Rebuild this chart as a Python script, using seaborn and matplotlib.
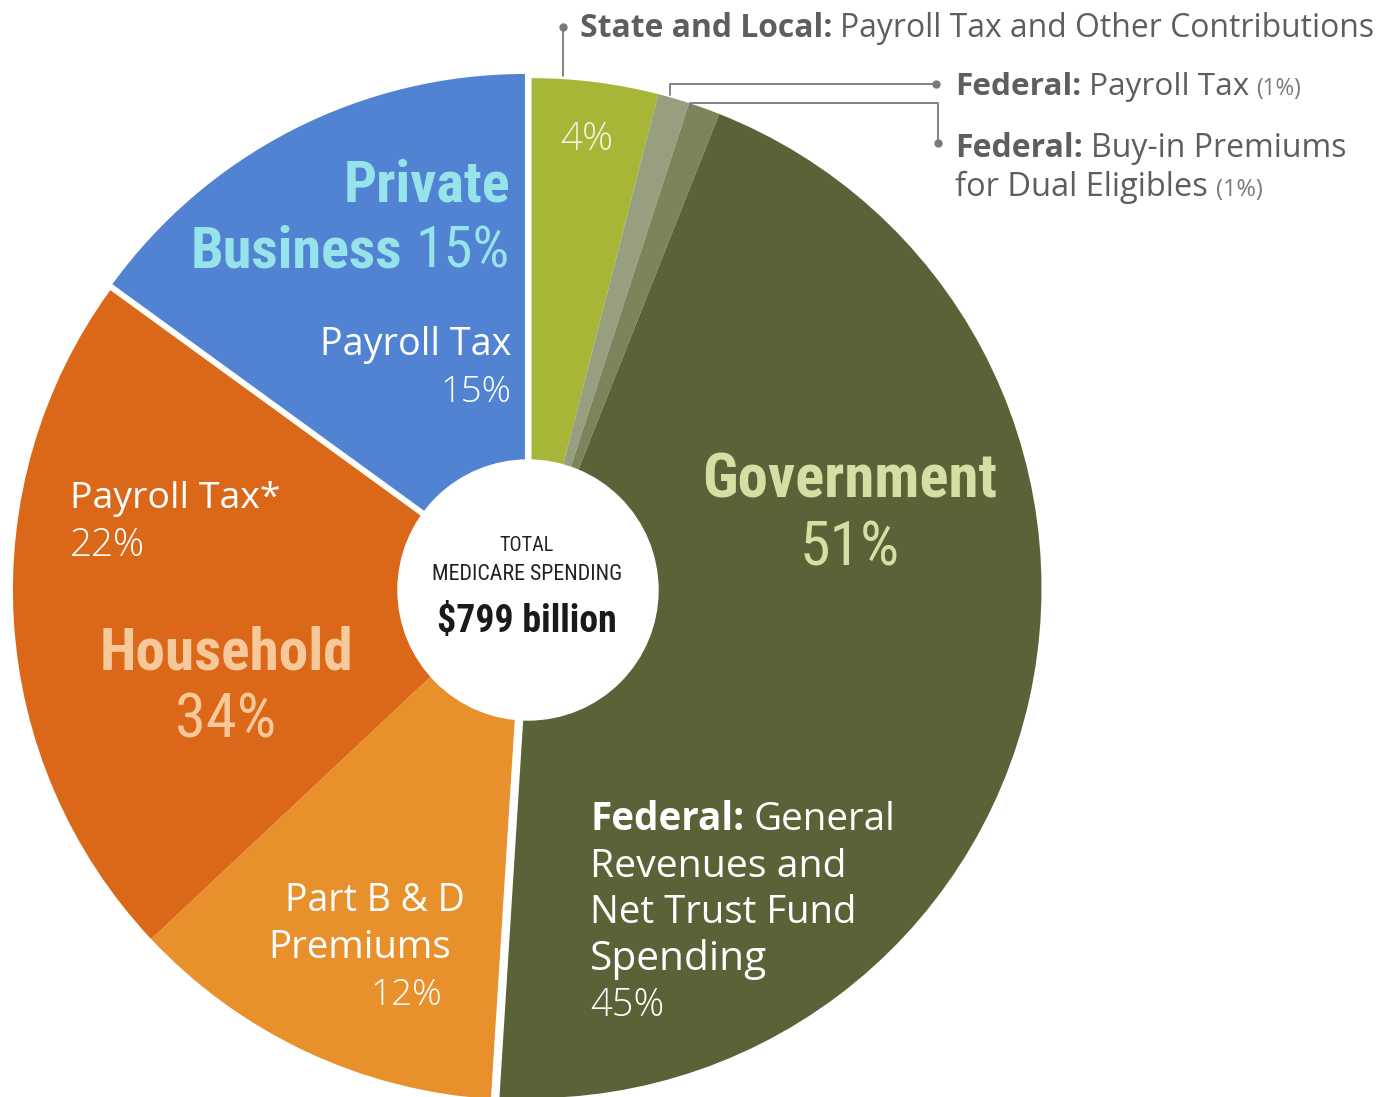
import numpy as np
import matplotlib
matplotlib.use('Agg')
import matplotlib.pyplot as plt
import seaborn as sns
from matplotlib import font_manager

# Medicare revenue sources (percent of total)
groups = ['Government', 'Household', 'Private Business']
gov_values = [4, 1, 1, 45]          # state/local, fed payroll, fed buy-in, fed general revenues
household_values = [12, 22]         # part B & D premiums, payroll tax*
private_values = [15]               # payroll tax
total_billion = 799

gov_colors = ['#a8b638', '#979f80', '#7b845a', '#596337']
household_colors = ['#e8902c', '#db6719']
private_colors = ['#5183d2']

sns.set_theme(style='white')
avail = {f.name for f in font_manager.fontManager.ttflist}
BODY = 'Open Sans' if 'Open Sans' in avail else 'DejaVu Sans'
COND = next((f for f in ['Liberation Sans Narrow', 'Roboto Condensed', 'Open Sans Condensed']
             if f in avail), BODY)
plt.rcParams['font.family'] = [BODY, 'DejaVu Sans']

W, H = 1379, 1097
fig = plt.figure(figsize=(W / 100, H / 100), dpi=100)
ax = fig.add_axes([0, 0, 1, 1])

# pie: each group drawn as its own partial pie, nudged out along its bisector
R = 510
base = np.array([527.0, H - 588.0])
nudge = 4.5
cum = 0
for vals, cols in [(gov_values, gov_colors), (household_values, household_colors),
                   (private_values, private_colors)]:
    a0 = cum * 3.6
    mid = np.radians(a0 + sum(vals) * 1.8)
    c = base + nudge * np.array([np.sin(mid), np.cos(mid)])
    ax.pie(np.array(vals) / 100, colors=cols, startangle=90 - a0, counterclock=False,
           radius=R, center=tuple(c), normalize=False, wedgeprops=dict(linewidth=0))
    cum += sum(vals)

ax.add_patch(plt.Circle((528, H - 590), 130, color='white', zorder=3))
ax.set_xlim(0, W)
ax.set_ylim(0, H)
ax.set_aspect('auto')
ax.axis('off')

renderer = fig.canvas.get_renderer()


def line(x, y, parts, width, ha='left'):
    """parts: (text, family, weight, rel_size, color); scaled to fit width px."""
    objs = [ax.text(0, 0, s, family=[fam, 'DejaVu Sans'], fontweight=wt, fontsize=30 * rel,
                    color=col, va='baseline', zorder=5) for s, fam, wt, rel, col in parts]

    def measure():
        ws = [t.get_window_extent(renderer).width for t in objs]
        gaps = [0.24 * t.get_fontsize() * 100 / 72 for t in objs[:-1]]
        return ws, gaps

    ws, gaps = measure()
    k = width / (sum(ws) + sum(gaps))
    for t in objs:
        t.set_fontsize(t.get_fontsize() * k)
    ws, gaps = measure()
    tot = sum(ws) + sum(gaps)
    x0 = {'left': x, 'right': x - tot, 'center': x - tot / 2}[ha]
    for i, t in enumerate(objs):
        t.set_position((x0, H - y))
        x0 += ws[i] + (gaps[i] if i < len(gaps) else 0)


WHITE = 'white'
# Private business
line(510, 202, [('Private', COND, 'bold', 1, '#97e3ea')], 167, 'right')
line(510, 268, [('Business', COND, 'bold', 1, '#97e3ea'),
                (f'{sum(private_values)}%', COND, 'normal', 1, '#97e3ea')], 320, 'right')
line(511, 355, [('Payroll Tax', BODY, 'normal', 1, WHITE)], 191, 'right')
line(511, 402, [(f'{private_values[0]}%', BODY, 'light', 1, WHITE)], 71, 'right')

# Household
line(70, 508, [('Payroll Tax*', BODY, 'normal', 1, WHITE)], 210)
line(70, 556, [(f'{household_values[1]}%', BODY, 'light', 1, WHITE)], 75)
line(226, 670, [('Household', COND, 'bold', 1, '#f7c89a')], 254, 'center')
line(226, 738, [(f'{sum(household_values)}%', COND, 'normal', 1, '#f7c89a')], 101, 'center')
line(465, 911, [('Part B & D', BODY, 'normal', 1, WHITE)], 180, 'right')
line(451, 958, [('Premiums', BODY, 'normal', 1, WHITE)], 183, 'right')
line(442, 1005, [(f'{household_values[0]}%', BODY, 'light', 1, WHITE)], 72, 'right')

# Government
line(850, 497, [('Government', COND, 'bold', 1, '#d6dfa3')], 295, 'center')
line(850, 565, [(f'{sum(gov_values)}%', COND, 'normal', 1, '#d6dfa3')], 100, 'center')
line(590, 830, [('Federal:', BODY, 'bold', 1, WHITE), ('General', BODY, 'normal', 1, WHITE)], 305)
line(590, 877, [('Revenues and', BODY, 'normal', 1, WHITE)], 257)
line(590, 923, [('Net Trust Fund', BODY, 'normal', 1, WHITE)], 267)
line(590, 970, [('Spending', BODY, 'normal', 1, WHITE)], 177)
line(590, 1016, [(f'{gov_values[3]}%', BODY, 'light', 1, WHITE)], 74)
line(587, 150, [(f'{gov_values[0]}%', BODY, 'light', 1, '#f1f3dc')], 53, 'center')

# centre
line(527, 551, [('TOTAL', COND, 'normal', 1, '#222222')], 54, 'center')
line(527, 580, [('MEDICARE SPENDING', COND, 'normal', 1, '#222222')], 191, 'center')
line(527, 632, [(f'${total_billion} billion', COND, 'bold', 1, '#1a1a1a')], 180, 'center')

# callouts for the thin slices
GREY = '#5e5e5e'
LGREY = '#7a7a7a'
line(580, 37, [('State and Local:', BODY, 'bold', 1, GREY),
               ('Payroll Tax and Other Contributions', BODY, 'normal', 1, GREY)], 793)
line(955, 95, [('Federal:', BODY, 'bold', 1, GREY), ('Payroll Tax', BODY, 'normal', 1, GREY),
               (f'({gov_values[1]}%)', BODY, 'normal', 0.72, LGREY)], 345)
line(955, 157, [('Federal:', BODY, 'bold', 1, GREY), ('Buy-in Premiums', BODY, 'normal', 1, GREY)], 390)
line(955, 196, [('for Dual Eligibles', BODY, 'normal', 1, GREY),
                (f'({gov_values[2]}%)', BODY, 'normal', 0.72, LGREY)], 308)

leaders = [([563, 563], [27, 76]),
           ([936, 670, 670], [84, 84, 95]),
           ([938, 938, 690, 690], [143, 103, 103, 110])]
for xs, ys in leaders:
    ax.plot(xs, [H - v for v in ys], color=LGREY, lw=1.3, zorder=4)
    ax.plot(xs[0], H - ys[0], 'o', color=LGREY, ms=5, zorder=4)

fig.savefig('out.png', dpi=100)
